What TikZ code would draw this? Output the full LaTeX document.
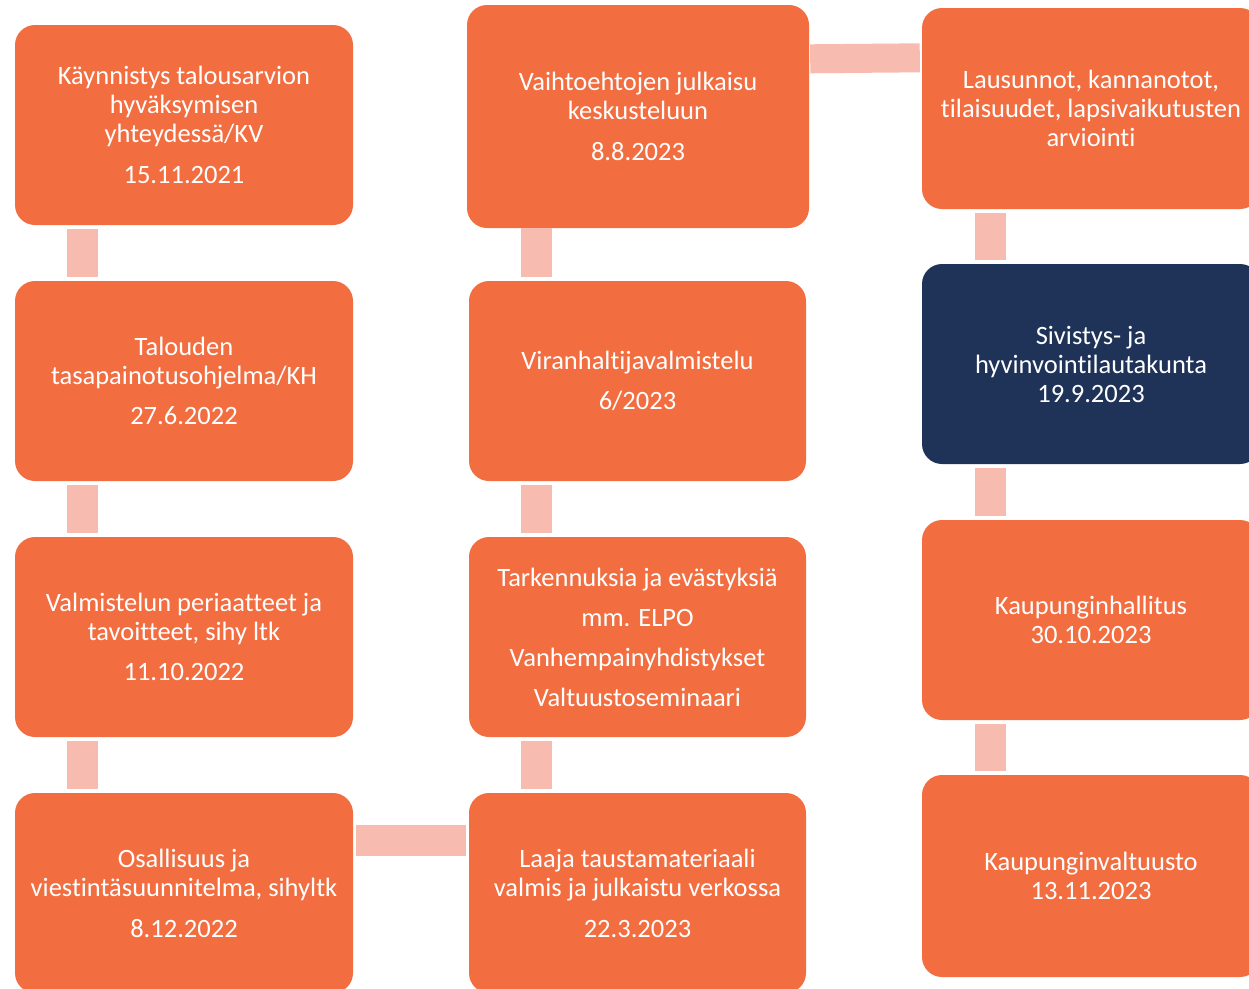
\documentclass[tikz,border=0pt]{standalone}
\usepackage{fontspec}
\setmainfont{Carlito}[RawFeature={-liga;-clig;-dlig;-calt}]
\definecolor{orng}{RGB}{242,109,64}
\definecolor{pinkc}{RGB}{247,187,175}
\definecolor{navy}{RGB}{31,50,88}
\begin{document}
\begin{tikzpicture}[x=1pt,y=-1pt,
  box/.style={draw=none, fill=orng, rounded corners=20pt, minimum width=338pt,
    minimum height=200pt, text=white, align=center, inner sep=0pt,
    font=\fontsize{26.5}{29}\selectfont},
  conn/.style={draw=pinkc, line width=31pt, shorten <=4pt, shorten >=4pt}]
\useasboundingbox (0,0) rectangle (1249,988);
\clip (0,0) rectangle (1249,988);
% column 1
\node[box] (a1) at (184,125) {Käynnistys talousarvion\\hyväksymisen\\yhteydessä/KV\\[12pt]15.11.2021};
\node[box] (a2) at (184,381) {Talouden\\tasapainotusohjelma/KH\\[11pt]27.6.2022};
\node[box] (a3) at (184,637) {Valmistelun periaatteet ja\\tavoitteet, sihy ltk\\[11pt]11.10.2022};
\node[box] (a4) at (184,893) {Osallisuus ja\\viestintäsuunnitelma, sihyltk\\[12pt]8.12.2022};
% column 2
\node[box, minimum width=342pt, minimum height=223pt] (b1) at (638,116.5) {Vaihtoehtojen julkaisu\\keskusteluun\\[12pt]8.8.2023};
\node[box, minimum width=337pt] (b2) at (637.5,381) {Viranhaltijavalmistelu\\[11pt]6/2023};
\node[box, minimum width=337pt] (b3) at (637.5,637) {Tarkennuksia ja evästyksiä\\[11pt]mm. ELPO\\[11pt]Vanhempainyhdistykset\\[11pt]Valtuustoseminaari};
\node[box, minimum width=337pt] (b4) at (637.5,893) {Laaja taustamateriaali\\valmis ja julkaistu verkossa\\[12pt]22.3.2023};
% column 3
\node[box, minimum height=201pt] (c1) at (1091,108.5) {Lausunnot, kannanotot,\\tilaisuudet, lapsivaikutusten\\arviointi};
\node[box, fill=navy] (c2) at (1091,364) {Sivistys- ja\\hyvinvointilautakunta\\19.9.2023};
\node[box] (c3) at (1091,620) {Kaupunginhallitus\\30.10.2023};
\node[box, minimum height=202pt] (c4) at (1091,876) {Kaupunginvaltuusto\\13.11.2023};
% connectors
\draw[conn] ([xshift=67.5pt]a1.south west) -- ([xshift=67.5pt]a2.north west);
\draw[conn] ([xshift=67.5pt]a2.south west) -- ([xshift=67.5pt]a3.north west);
\draw[conn] ([xshift=67.5pt]a3.south west) -- ([xshift=67.5pt]a4.north west);
\draw[conn, shorten <=3pt, shorten >=3pt] ([yshift=-48pt]a4.north east) -- ([yshift=-48pt]b4.north west);
\draw[conn, shorten <=0pt] ([xshift=69.5pt]b1.south west) -- ([xshift=67.5pt]b2.north west);
\draw[conn] ([xshift=67.5pt]b2.south west) -- ([xshift=67.5pt]b3.north west);
\draw[conn] ([xshift=67.5pt]b3.south west) -- ([xshift=67.5pt]b4.north west);
\draw[conn, line width=29pt, shorten <=1pt, shorten >=2pt] ([yshift=-54pt]b1.north east) -- ([yshift=-50pt]c1.north west);
\draw[conn] ([xshift=68.5pt]c1.south west) -- ([xshift=68.5pt]c2.north west);
\draw[conn] ([xshift=68.5pt]c2.south west) -- ([xshift=68.5pt]c3.north west);
\draw[conn] ([xshift=68.5pt]c3.south west) -- ([xshift=68.5pt]c4.north west);
\end{tikzpicture}
\end{document}
